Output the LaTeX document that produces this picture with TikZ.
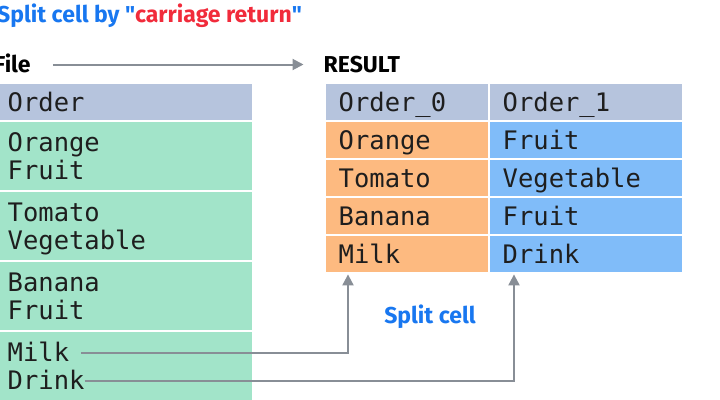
\documentclass[tikz,border=0pt]{standalone}
\usepackage{fontspec}
\setmainfont{Fira Sans}[Ligatures=TeXOff]
\newfontfamily\codefont{DejaVu Sans Mono}
\usetikzlibrary{arrows.meta}

\definecolor{hdrgray}{HTML}{B6C4DD}
\definecolor{filegreen}{HTML}{A2E4C9}
\definecolor{splitorange}{HTML}{FDBA80}
\definecolor{splitblue}{HTML}{80BCF9}
\definecolor{titleblue}{HTML}{1877F0}
\definecolor{titlered}{HTML}{F12B3B}
\definecolor{linkgray}{HTML}{888E96}
\definecolor{inkdark}{HTML}{1E1E1E}

\begin{document}
\begin{tikzpicture}[
    x=1pt, y=-1pt,
    headtext/.style={
        font=\bfseries\fontsize{23}{25}\selectfont,
        inner sep=0pt,
        anchor=base west,
        text height=15pt,
        text depth=0pt
    },
    cell/.style={
        rectangle,
        anchor=north west,
        inner xsep=12.5pt,
        inner ysep=0pt,
        text width=#1,
        align=left,
        text height=27.5pt,
        text depth=8pt,
        font=\codefont\fontsize{25.5}{28}\selectfont,
        text=inkdark
    },
    filerow/.style={
        rectangle,
        anchor=north west,
        inner sep=0pt,
        fill=filegreen,
        minimum width=256.7pt,
        minimum height=#1
    },
    codeline/.style={
        font=\codefont\fontsize{25.5}{28}\selectfont,
        text=inkdark,
        inner sep=0pt,
        anchor=base west,
        text height=17pt,
        text depth=0pt
    },
    link/.style={
        -{Triangle[length=11pt, width=11pt]},
        line width=2pt,
        color=linkgray
    }
]
\useasboundingbox (0,0) rectangle (720,399);

% titles
\node[headtext] (title) at (-3,22.7) {\textcolor{titleblue}{Split cell by "}\textcolor{titlered}{carriage return}\textcolor{titleblue}{"}};
\node[headtext, text=black] (file) at (-6,72) {File};
\node[headtext, text=black] (result) at (323.5,72) {RESULT};

% file table
\node[cell=231.7pt, fill=hdrgray] (fhead) at (-5,84) {Order};
\node[filerow=68pt] (f1) at (-5,121.5) {};
\node[filerow=68pt] (f2) at (-5,191.5) {};
\node[filerow=68pt] (f3) at (-5,261.5) {};
\node[filerow=80pt] (f4) at (-5,331.5) {};

\node[codeline] (orange) at (7.5,151.7) {Orange};
\node[codeline] (fruitA) at (7.5,179.3) {Fruit};
\node[codeline] (tomato) at (7.5,221.7) {Tomato};
\node[codeline] (vegetable) at (7.5,249.3) {Vegetable};
\node[codeline] (banana) at (7.5,291.7) {Banana};
\node[codeline] (fruitB) at (7.5,319.3) {Fruit};
\node[codeline] (milk) at (7.5,361.7) {Milk};
\node[codeline] (drink) at (7.5,389.3) {Drink};

% result table
\node[cell=136.7pt, fill=hdrgray] (r0a) at (326,84) {Order\_0};
\node[cell=166.7pt, fill=hdrgray] (r0b) at (490,84) {Order\_1};
\node[cell=136.7pt, fill=splitorange] (r1a) at (326,122) {Orange};
\node[cell=166.7pt, fill=splitblue] (r1b) at (490,122) {Fruit};
\node[cell=136.7pt, fill=splitorange] (r2a) at (326,160) {Tomato};
\node[cell=166.7pt, fill=splitblue] (r2b) at (490,160) {Vegetable};
\node[cell=136.7pt, fill=splitorange] (r3a) at (326,198) {Banana};
\node[cell=166.7pt, fill=splitblue] (r3b) at (490,198) {Fruit};
\node[cell=136.7pt, fill=splitorange] (r4a) at (326,236) {Milk};
\node[cell=166.7pt, fill=splitblue] (r4b) at (490,236) {Drink};

\node[headtext, anchor=base, text=titleblue] (splitnote) at (430,323.3) {Split cell};

% connectors
\draw[link, shorten <=22pt, shorten >=20pt] (file.east) -- (result.west);
\draw[link, shorten <=12pt, shorten >=2.5pt] (milk.east) -| ([xshift=22pt]r4a.south west);
\draw[link, shorten >=2.5pt] (drink.east) -| ([xshift=24pt]r4b.south west);

\end{tikzpicture}
\end{document}
